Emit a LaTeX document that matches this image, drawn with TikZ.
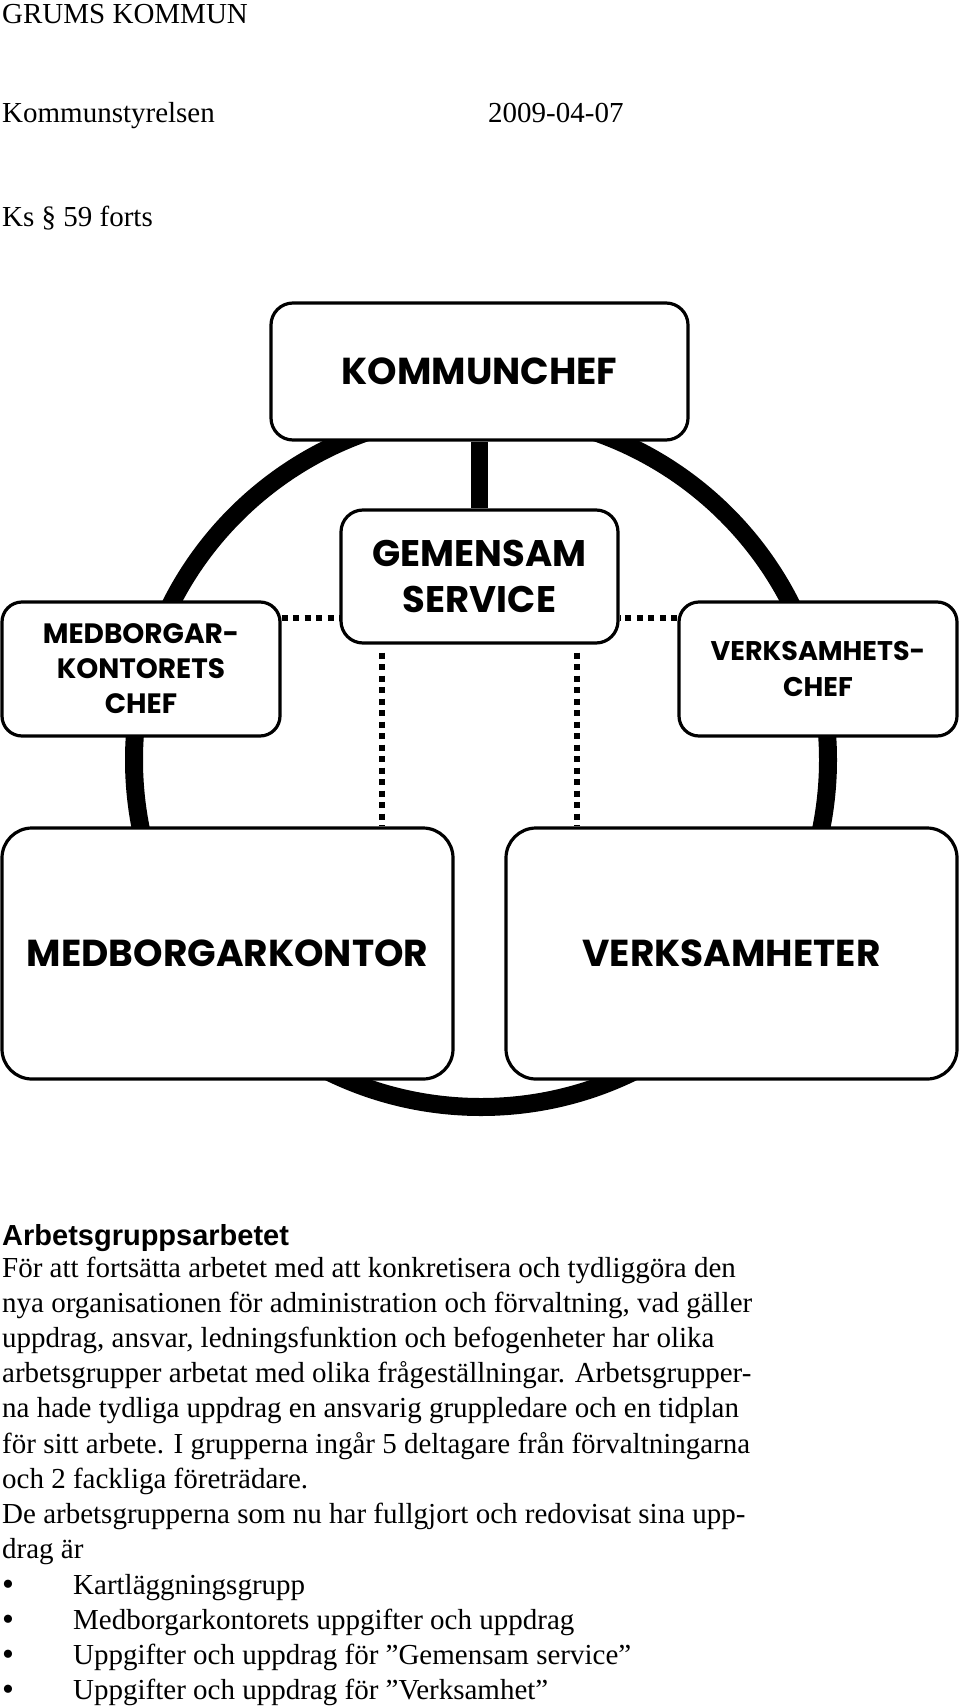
\documentclass[tikz,border=0pt]{standalone}
\usepackage{fontspec}
\setmainfont{Liberation Serif}
\newfontfamily\headfont{Liberation Sans}
\newfontfamily\boxfont{Poppins}
\usetikzlibrary{positioning}

\tikzset{
  orgbox/.style={draw, fill=white, line width=3.2pt, rounded corners=22pt, align=center, inner sep=0pt},
  boxlabel/.style 2 args={font=\boxfont\bfseries\fontsize{#1}{#2}\selectfont},
  ring/.style={line width=18pt},
  stem/.style={line width=17pt},
  dotline/.style={line width=6pt, dash pattern=on 6pt off 5.5pt},
  bodytext/.style={font=\fontsize{29}{35}\selectfont, inner sep=0pt, anchor=base west},
}

\begin{document}
\begin{tikzpicture}[x=1pt, y=-1pt]
  \useasboundingbox (0,0) rectangle (960,1707);

  % header
  \node[bodytext] (org) at (2,24) {GRUMS KOMMUN};
  \node[bodytext] (board) at (2,123) {Kommunstyrelsen};
  \node[bodytext] (date) at (488,123) {2009-04-07};
  \node[bodytext] (ks) at (2,226) {Ks § 59 forts};

  % the ring behind the boxes
  \coordinate (hub) at (481,760);
  \draw[ring] (hub) circle[radius=347pt];

  % boxes
  \node[orgbox, minimum width=417pt, minimum height=137pt, boxlabel={37.5}{48}] (kc) at (479.5,371.5) {KOMMUNCHEF};
  \node[orgbox, minimum width=277pt, minimum height=133pt, boxlabel={37}{46}] (gs) at (479.5,576.5) {GEMENSAM\\SERVICE};
  \node[orgbox, minimum width=278pt, minimum height=134pt, rounded corners=20pt, boxlabel={28}{35}] (mc) at (141,669) {MEDBORGAR-\\KONTORETS\\CHEF};
  \node[orgbox, minimum width=278pt, minimum height=134pt, rounded corners=20pt, boxlabel={27}{36}] (vc) at (818,669) {VERKSAMHETS-\\CHEF};
  \node[orgbox, minimum width=451pt, minimum height=251pt, rounded corners=30pt, boxlabel={37.5}{42}] (mk) at (227.5,953.5) {MEDBORGARKONTOR};
  \node[orgbox, minimum width=451pt, minimum height=251pt, rounded corners=30pt, boxlabel={37.5}{42}] (vh) at (731.5,953.5) {VERKSAMHETER};

  % links
  \draw[stem] (kc.south) -- (gs.north);
  \draw[dotline] ([yshift=-18pt]mc.north east) -- ([yshift=-18pt]mc.north east -| gs.west);
  \draw[dotline] ([yshift=-18pt]vc.north west) -- ([yshift=-18pt]vc.north west -| gs.east);
  \draw[dotline] ([xshift=43pt,yshift=-8pt]gs.south west) -- ([xshift=43pt]gs.south west |- mk.north);
  \draw[dotline] ([xshift=-43pt,yshift=-8pt]gs.south east) -- ([xshift=-43pt]gs.south east |- vh.north);

  % text below
  \node[bodytext, font=\headfont\bfseries\fontsize{29}{35}\selectfont] (head) at (2,1245) {Arbetsgruppsarbetet};
  \foreach \txt [count=\i from 0] in {
      {För att fortsätta arbetet med att konkretisera och tydliggöra den},
      {nya organisationen för administration och förvaltning, vad gäller},
      {uppdrag, ansvar, ledningsfunktion och befogenheter har olika},
      {arbetsgrupper arbetat med olika frågeställningar. Arbetsgrupper-},
      {na hade tydliga uppdrag en ansvarig gruppledare och en tidplan},
      {för sitt arbete. I grupperna ingår 5 deltagare från förvaltningarna},
      {och 2 fackliga företrädare.},
      {De arbetsgrupperna som nu har fullgjort och redovisat sina upp-},
      {drag är}}
    \node[bodytext] (line\i) at (2,1277+35.2*\i) {\txt};
  \foreach \txt [count=\i from 0] in {
      {Kartläggningsgrupp},
      {Medborgarkontorets uppgifter och uppdrag},
      {Uppgifter och uppdrag för ”Gemensam service”},
      {Uppgifter och uppdrag för ”Verksamhet”}} {
    \node[bodytext, font=\fontsize{34}{35}\selectfont] (dot\i) at (2,1595+35.2*\i) {\textbullet};
    \node[bodytext] (item\i) at (73,1594+35.2*\i) {\txt};
  }
\end{tikzpicture}
\end{document}
